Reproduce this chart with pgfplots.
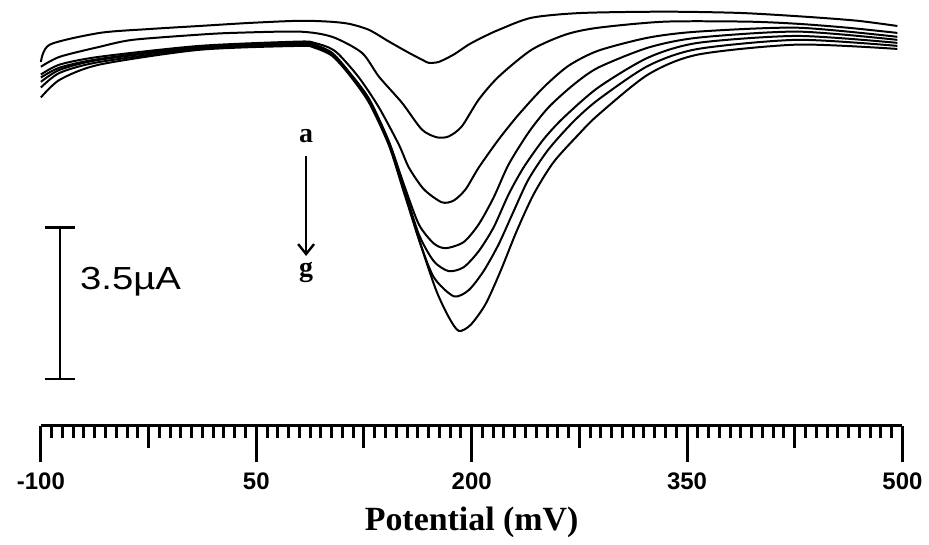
\documentclass[border=0pt]{standalone}
\usepackage{fontspec}
\setmainfont{Liberation Sans}
\newfontfamily\timesfont{Liberation Serif}
\newfontfamily\widesans[FakeStretch=1.2]{Liberation Sans}
\usepackage{pgfplots}
\pgfplotsset{compat=1.18}
\usetikzlibrary{arrows.meta}

\pgfplotsset{curve/.style={black, line width=1pt, mark=none, smooth, tension=0.45}}

\begin{document}
\begin{tikzpicture}
\begin{axis}[
    scale only axis,
    width=432pt, height=213.5pt,
    xmin=-100, xmax=500, ymin=0, ymax=9.83,
    axis x line=bottom, axis y line=none,
    axis line style={-, line width=1.5pt},
    xtick={-100,50,200,350,500},
    xticklabels={-100,50,200,350,500},
    minor x tick num=19,
    extra x ticks={-25,125,275,425},
    extra x tick labels={},
    extra x tick style={major tick length=11pt},
    tick align=outside,
    major tick length=18pt, minor tick length=6pt,
    tick style={line width=1.5pt, black},
    ticklabel style={font=\bfseries\fontsize{12}{12}\selectfont},
    xticklabel style={yshift=-2pt},
    xlabel={Potential (mV)},
    xlabel style={font=\timesfont\bfseries\fontsize{17}{17}\selectfont,
        at={(axis description cs:0.5,0)}, anchor=base, yshift=-52.5pt},
    clip=false,
]
% a
\addplot[curve] coordinates {(-100,8.40) (-93.8,8.80) (-59.0,9.07) (-24.3,9.16) (10.4,9.23) (45.1,9.30) (79.9,9.35) (100.7,9.33) (114.6,9.28) (128.5,9.14) (142.4,8.87) (156.3,8.61) (166.7,8.43) (170.1,8.38) (177.1,8.40) (187.5,8.57) (197.9,8.80) (208.3,8.98) (218.8,9.14) (241.7,9.42) (276.4,9.53) (334.7,9.56) (387.5,9.53) (434.0,9.44) (468.8,9.35) (496.5,9.23)};
% b
\addplot[curve] coordinates {(-100,8.29) (-86.8,8.52) (-59.0,8.75) (-36.1,8.91) (10.4,9.03) (33.3,9.07) (79.9,9.10) (102.8,8.98) (123.6,8.61) (135.4,8.06) (151.4,7.46) (165.3,6.84) (175.7,6.66) (184.0,6.68) (193.1,6.91) (204.9,7.53) (218.8,8.06) (241.7,8.68) (265.3,9.03) (288.2,9.19) (334.7,9.33) (392.4,9.33) (427.1,9.28) (461.8,9.19) (496.5,9.07)};
% c
\addplot[curve] coordinates {(-100,8.11) (-86.8,8.34) (-59.0,8.52) (10.4,8.77) (79.9,8.87) (90.3,8.84) (100.7,8.73) (107.6,8.57) (121.5,8.04) (135.4,7.35) (149.3,6.49) (156.3,5.96) (166.7,5.46) (179.2,5.16) (187.5,5.20) (195.8,5.46) (204.9,5.96) (218.8,6.61) (232.6,7.18) (250.0,7.81) (267.4,8.31) (288.2,8.66) (322.9,8.96) (357.6,9.10) (427.1,9.19) (496.5,8.98)};
% d
\addplot[curve] coordinates {(-100,8.04) (-86.8,8.27) (-59.0,8.47) (10.4,8.75) (79.9,8.84) (90.3,8.80) (102.8,8.61) (114.6,8.17) (128.5,7.55) (142.4,6.56) (152.8,5.57) (163.2,4.65) (173.6,4.21) (181.9,4.10) (194.4,4.24) (204.9,4.65) (215.3,5.27) (225.7,6.03) (239.6,6.77) (253.5,7.35) (270.8,7.87) (288.2,8.27) (322.9,8.73) (357.6,8.96) (427.1,9.10) (496.5,8.91)};
% e
\addplot[curve] coordinates {(-100,7.94) (-86.8,8.22) (-59.0,8.45) (10.4,8.73) (79.9,8.82) (90.3,8.77) (102.8,8.59) (114.6,8.15) (128.5,7.53) (142.4,6.54) (152.8,5.50) (163.2,4.42) (173.6,3.80) (184.0,3.57) (194.4,3.66) (204.9,4.03) (215.3,4.58) (225.7,5.34) (236.1,5.96) (250.0,6.61) (263.9,7.11) (288.2,7.81) (322.9,8.50) (357.6,8.84) (427.1,9.00) (496.5,8.84)};
% f
\addplot[curve] coordinates {(-100,7.81) (-86.8,8.15) (-59.0,8.40) (10.4,8.70) (79.9,8.80) (90.3,8.75) (102.8,8.57) (114.6,8.13) (128.5,7.51) (142.4,6.52) (152.8,5.46) (163.2,4.31) (173.6,3.43) (187.5,2.99) (197.9,3.13) (208.3,3.57) (218.8,4.19) (229.2,4.95) (239.6,5.69) (253.5,6.38) (270.8,7.02) (288.2,7.53) (322.9,8.31) (357.6,8.70) (427.1,8.91) (496.5,8.77)};
% g
\addplot[curve] coordinates {(-100,7.58) (-86.8,7.99) (-59.0,8.34) (10.4,8.68) (79.9,8.77) (90.3,8.73) (102.8,8.54) (114.6,8.11) (128.5,7.46) (142.4,6.47) (152.8,5.39) (163.2,4.31) (175.0,3.15) (184.0,2.51) (191.0,2.19) (199.3,2.33) (209.7,2.81) (220.1,3.57) (231.3,4.49) (243.1,5.34) (256.9,6.08) (274.3,6.72) (288.2,7.18) (322.9,8.11) (357.6,8.57) (427.1,8.80) (496.5,8.70)};
% scale bar 3.5 uA
\addplot[black, line width=1.3pt, mark=none] coordinates {(-97.2,4.58) (-76.4,4.58)};
\addplot[black, line width=1.3pt, mark=none] coordinates {(-86.8,4.58) (-86.8,1.08)};
\addplot[black, line width=1.3pt, mark=none] coordinates {(-97.2,1.08) (-76.4,1.08)};
\node[anchor=west, font=\widesans\fontsize{16}{16}\selectfont, inner sep=0pt] at (axis cs:-73,3.32) {3.5µA};
% a -> g arrow
\node[font=\timesfont\bfseries\fontsize{14}{14}\selectfont, inner sep=0pt] at (axis cs:84.7,6.68) {a};
\node[font=\timesfont\bfseries\fontsize{14}{14}\selectfont, inner sep=0pt] at (axis cs:84.7,3.55) {g};
\draw[line width=1.2pt, -{Straight Barb[length=5pt, width=8pt, line width=1.2pt]}] (axis cs:84.7,6.22) -- (axis cs:84.7,3.92);
% page extent
\path (axis cs:-128.5,9.83) (axis cs:516.7,9.83);
\end{axis}
\end{tikzpicture}
\end{document}
